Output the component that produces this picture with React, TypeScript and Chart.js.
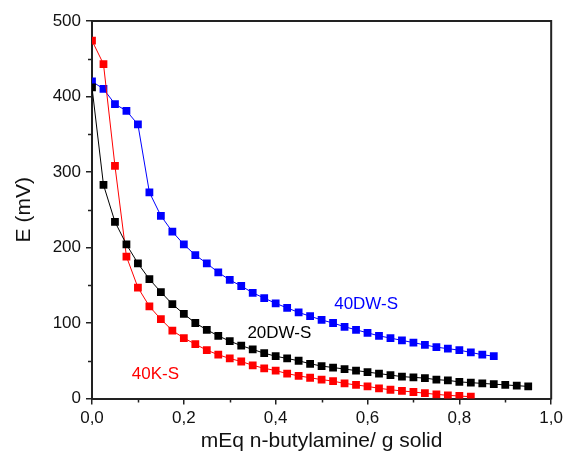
import React, { useEffect, useRef } from "react";
import { Chart, registerables } from "chart.js";

Chart.register(...registerables);

const xTicks = [0, 0.2, 0.4, 0.6, 0.8, 1.0];
const yTicks = [0, 100, 200, 300, 400, 500];
const xMinor = [0.1, 0.3, 0.5, 0.7, 0.9];
const yMinor = [50, 150, 250, 350, 450];

const dw40X = [0, 0.025, 0.05, 0.075, 0.1, 0.125, 0.15, 0.175, 0.2, 0.225, 0.25, 0.275, 0.3, 0.325, 0.35, 0.375, 0.4, 0.425, 0.45, 0.475, 0.5, 0.525, 0.55, 0.575, 0.6, 0.625, 0.65, 0.675, 0.7, 0.725, 0.75, 0.775, 0.8, 0.825, 0.85, 0.875];
const dw40Y = [420, 410, 390, 381, 363, 273, 242, 221, 204, 190, 179, 167, 157, 149, 140, 133, 126, 120, 114, 109, 104, 100, 95, 91, 87, 83, 80, 77, 74, 71, 68, 66, 64, 61, 58, 56];

const dw20X = [0, 0.025, 0.05, 0.075, 0.1, 0.125, 0.15, 0.175, 0.2, 0.225, 0.25, 0.275, 0.3, 0.325, 0.35, 0.375, 0.4, 0.425, 0.45, 0.475, 0.5, 0.525, 0.55, 0.575, 0.6, 0.625, 0.65, 0.675, 0.7, 0.725, 0.75, 0.775, 0.8, 0.825, 0.85, 0.875, 0.9, 0.925, 0.95];
const dw20Y = [412, 283, 234, 204, 179, 158, 141, 125, 112, 100, 91, 83, 76, 70, 65, 60, 56, 53, 50, 46, 43, 41, 39, 37, 35, 33, 31, 29, 28, 27, 25, 24, 22, 21, 20, 19, 18, 17, 16];

const k40X = [0, 0.025, 0.05, 0.075, 0.1, 0.125, 0.15, 0.175, 0.2, 0.225, 0.25, 0.275, 0.3, 0.325, 0.35, 0.375, 0.4, 0.425, 0.45, 0.475, 0.5, 0.525, 0.55, 0.575, 0.6, 0.625, 0.65, 0.675, 0.7, 0.725, 0.75, 0.775, 0.8, 0.825];
const k40Y = [474, 443, 308, 188, 147, 122, 105, 90, 80, 72, 64, 58, 53, 49, 44, 40, 37, 33, 30, 27.5, 25, 23, 20, 18, 16, 13.5, 11.6, 10, 8.6, 7, 5.5, 4.2, 3.3, 2.4];

const seriesNames = ["40DW-S", "20DW-S", "40K-S"];
const seriesColors = ["#0000ff", "#000000", "#ff0000"];
// label anchor points in data units
const labelX = [0.597, 0.408, 0.138];
const labelY = [125, 87, 32.5];

const FONT = "'Liberation Sans', Arial, Helvetica, sans-serif";
const AXIS_COLOR = "#222";

const pts = (xs: number[], ys: number[]) => xs.map((x, i) => ({ x, y: ys[i] }));

const framePlugin = {
  id: "frame",
  afterDraw(chart: any) {
    const { ctx, chartArea } = chart;
    const xs = chart.scales.x;
    const ys = chart.scales.y;
    ctx.save();
    ctx.strokeStyle = AXIS_COLOR;
    ctx.lineWidth = 2;
    ctx.beginPath();
    ctx.moveTo(chartArea.left - 1, chartArea.top);
    ctx.lineTo(chartArea.right, chartArea.top);
    ctx.lineTo(chartArea.right, chartArea.bottom + 1);
    ctx.stroke();
    ctx.lineWidth = 1.5;
    ctx.beginPath();
    xMinor.forEach((v) => {
      const px = Math.round(xs.getPixelForValue(v)) + 0.5;
      ctx.moveTo(px, chartArea.bottom);
      ctx.lineTo(px, chartArea.bottom + 4);
    });
    yMinor.forEach((v) => {
      const py = Math.round(ys.getPixelForValue(v)) + 0.5;
      ctx.moveTo(chartArea.left, py);
      ctx.lineTo(chartArea.left - 4, py);
    });
    ctx.stroke();
    ctx.font = `17px ${FONT}`;
    ctx.textAlign = "center";
    ctx.textBaseline = "middle";
    seriesNames.forEach((name, i) => {
      ctx.fillStyle = seriesColors[i];
      ctx.fillText(name, xs.getPixelForValue(labelX[i]), ys.getPixelForValue(labelY[i]));
    });
    ctx.restore();
  },
};

export default function App() {
  const ref = useRef<HTMLCanvasElement>(null);
  useEffect(() => {
    if (!ref.current) return;
    const mk = (label: string, data: any[], color: string) => ({
      label,
      data,
      borderColor: color,
      backgroundColor: color,
      borderWidth: 1,
      pointStyle: "rect",
      pointRadius: 5.5,
      pointBorderWidth: 0,
      pointBackgroundColor: color,
      showLine: true,
      tension: 0,
    });
    const chart = new Chart(ref.current, {
      type: "scatter",
      data: {
        datasets: [
          mk(seriesNames[1], pts(dw20X, dw20Y), seriesColors[1]),
          mk(seriesNames[2], pts(k40X, k40Y), seriesColors[2]),
          mk(seriesNames[0], pts(dw40X, dw40Y), seriesColors[0]),
        ],
      },
      options: {
        responsive: false,
        animation: false,
        layout: { padding: { top: 21, right: 14, left: 0, bottom: 0 } },
        plugins: { legend: { display: false }, tooltip: { enabled: false } },
        scales: {
          x: {
            type: "linear",
            min: 0,
            max: 1,
            afterBuildTicks: (s: any) => {
              s.ticks = xTicks.map((v) => ({ value: v }));
            },
            afterFit: (s: any) => {
              s.height = 57.5;
            },
            ticks: {
              color: "#111",
              font: { family: FONT, size: 17 },
              padding: 4,
              maxRotation: 0,
              callback: (v: any) => Number(v).toFixed(1).replace(".", ","),
            },
            grid: {
              drawOnChartArea: false,
              drawTicks: true,
              tickLength: 6,
              color: AXIS_COLOR,
              lineWidth: 1.5,
            },
            border: { display: true, color: AXIS_COLOR, width: 2 },
            title: {
              display: true,
              text: "mEq n-butylamine/ g solid",
              color: "#111",
              font: { family: FONT, size: 21 },
              padding: { top: 0, bottom: 2 },
            },
          },
          y: {
            type: "linear",
            min: 0,
            max: 500,
            afterBuildTicks: (s: any) => {
              s.ticks = yTicks.map((v) => ({ value: v }));
            },
            afterFit: (s: any) => {
              s.width = 92;
            },
            ticks: {
              color: "#111",
              font: { family: FONT, size: 17 },
              padding: 5,
              callback: (v: any) => String(v),
            },
            grid: {
              drawOnChartArea: false,
              drawTicks: true,
              tickLength: 6,
              color: AXIS_COLOR,
              lineWidth: 1.5,
            },
            border: { display: true, color: AXIS_COLOR, width: 2 },
            title: {
              display: true,
              text: "E (mV)",
              color: "#111",
              font: { family: FONT, size: 21 },
              padding: { top: 12, bottom: 0 },
            },
          },
        },
      },
      plugins: [framePlugin],
    } as any);
    return () => chart.destroy();
  }, []);
  return (
    <div style={{ position: "absolute", left: 0, top: 0, width: 567, height: 456 }}>
      <canvas ref={ref} width={567} height={456} style={{ width: 567, height: 456 }} />
    </div>
  );
}
